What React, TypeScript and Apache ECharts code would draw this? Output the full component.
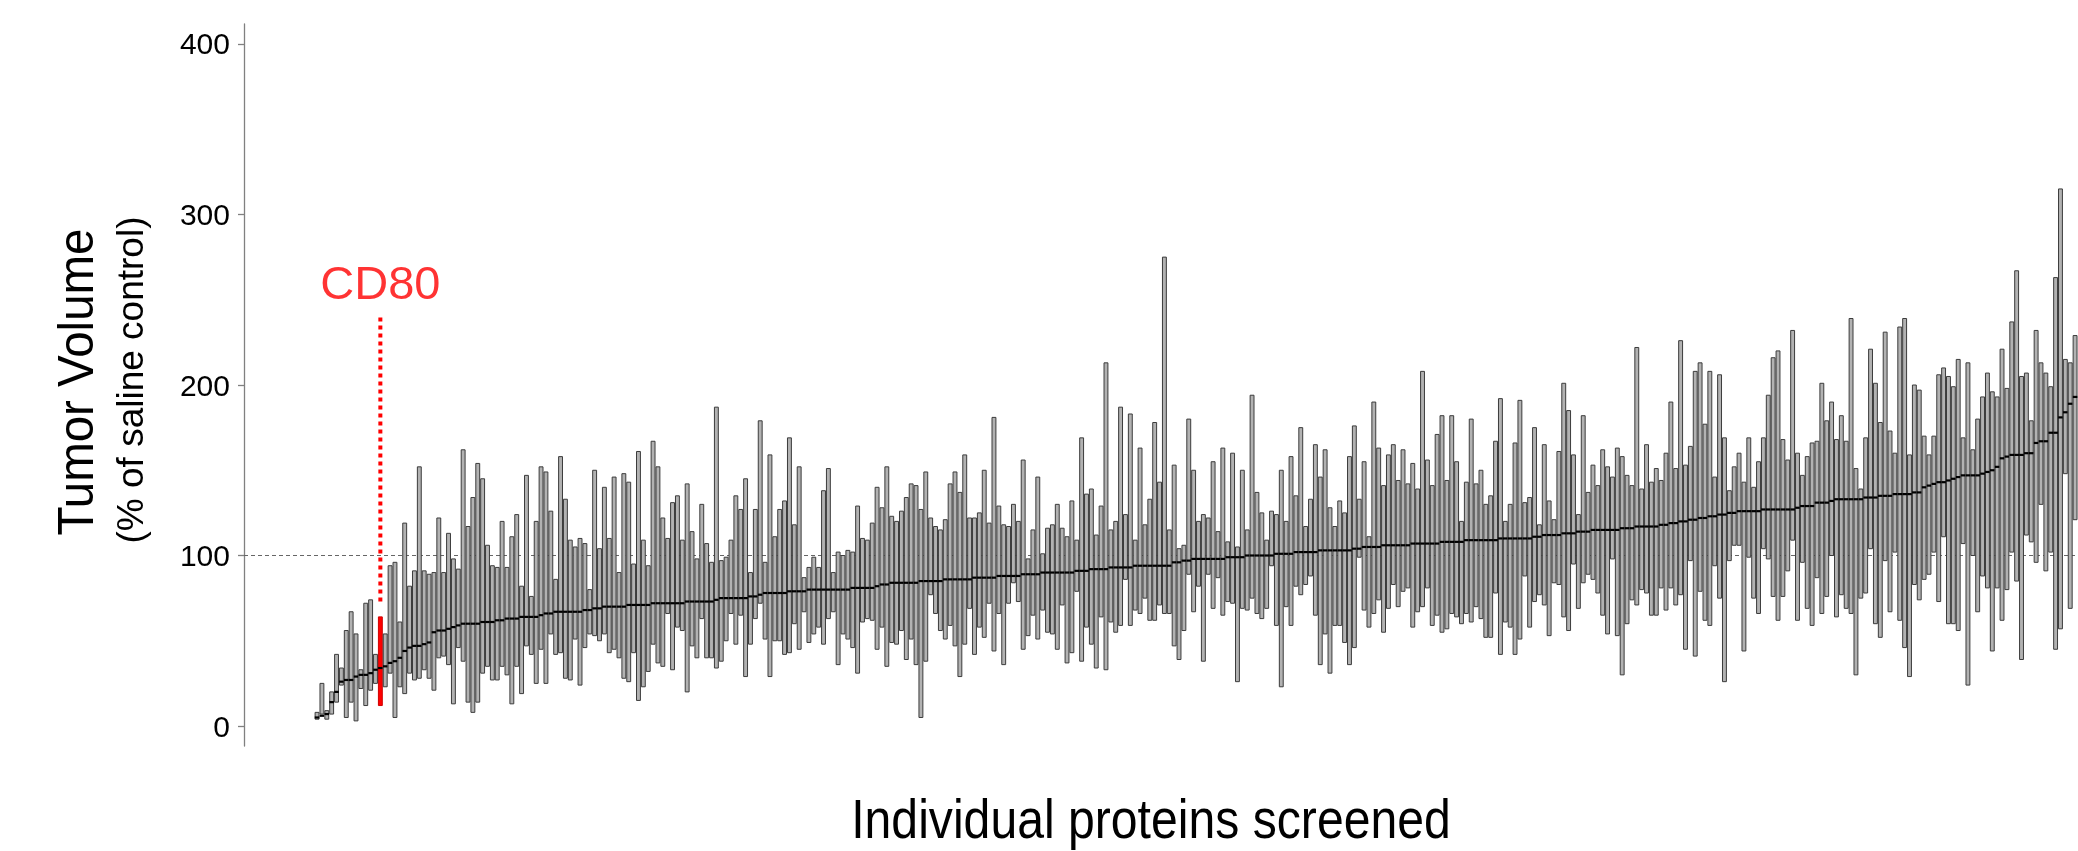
import React, { useEffect, useRef } from 'react';
import * as echarts from 'echarts';

// Per-protein tumour volume range (min / max) and median, sorted by median
const lows = [
  4, 7, 4, 7, 14, 24, 5, 14, 3, 22,
  12, 21, 25, 12, 23, 31, 5, 23, 19, 31,
  27, 28, 33, 28, 21, 40, 41, 36, 13, 46,
  38, 14, 8, 14, 31, 35, 27, 27, 35, 30,
  13, 35, 19, 47, 42, 25, 45, 25, 54, 42,
  43, 28, 27, 51, 24, 46, 54, 53, 50, 54,
  43, 45, 40, 28, 26, 43, 15, 23, 32, 48,
  37, 35, 66, 33, 58, 56, 20, 47, 40, 63,
  40, 40, 34, 38, 50, 66, 48, 65, 29, 48,
  63, 72, 51, 29, 50, 50, 42, 43, 60, 45,
  67, 49, 54, 58, 48, 63, 67, 36, 54, 51,
  46, 31, 61, 63, 62, 45, 58, 35, 49, 48,
  56, 39, 51, 36, 5, 38, 77, 66, 56, 51,
  59, 47, 29, 48, 69, 42, 58, 52, 72, 44,
  66, 36, 72, 84, 73, 45, 53, 65, 51, 68,
  55, 54, 45, 71, 37, 43, 79, 38, 58, 48,
  34, 64, 33, 61, 55, 59, 86, 59, 68, 66,
  75, 62, 62, 71, 66, 66, 47, 39, 56, 89,
  67, 82, 38, 89, 69, 87, 65, 73, 72, 26,
  69, 68, 75, 66, 63, 69, 94, 59, 23, 70,
  59, 82, 77, 83, 88, 65, 36, 54, 31, 59,
  59, 49, 36, 46, 99, 68, 58, 66, 74, 55,
  69, 83, 70, 79, 81, 58, 67, 70, 81, 59,
  65, 55, 57, 66, 64, 60, 66, 61, 70, 63,
  52, 52, 78, 42, 61, 58, 42, 51, 88, 58,
  73, 77, 71, 53, 84, 83, 64, 56, 95, 69,
  84, 89, 86, 78, 65, 54, 98, 53, 30, 60,
  74, 71, 80, 78, 65, 65, 81, 68, 81, 71,
  77, 45, 97, 41, 79, 62, 59, 94, 75, 26,
  97, 106, 106, 44, 99, 75, 66, 104, 98, 76,
  62, 76, 91, 109, 62, 96, 69, 59, 87, 66,
  76, 100, 64, 77, 69, 66, 30, 75, 78, 104,
  60, 52, 97, 67, 102, 62, 46, 29, 83, 74,
  86, 89, 102, 73, 111, 60, 60, 56, 107, 24,
  100, 67, 88, 81, 44, 81, 62, 80, 102, 85,
  39, 112, 108, 96, 130, 91, 102, 45, 57, 148,
  69, 121,
];

const highs = [
  8, 25, 9, 20, 42, 34, 56, 67, 54, 33,
  72, 74, 42, 64, 54, 94, 96, 61, 119, 82,
  91, 152, 91, 89, 90, 122, 90, 113, 98, 92,
  162, 117, 134, 154, 145, 106, 94, 93, 120, 93,
  111, 124, 82, 147, 76, 120, 152, 149, 126, 86,
  158, 133, 109, 105, 110, 107, 80, 150, 104, 140,
  110, 146, 90, 148, 143, 95, 161, 109, 94, 167,
  152, 122, 110, 131, 135, 109, 142, 114, 98, 130,
  107, 96, 187, 97, 99, 109, 135, 127, 145, 90,
  127, 179, 96, 159, 111, 127, 132, 169, 118, 152,
  87, 93, 99, 93, 138, 151, 90, 102, 100, 103,
  102, 129, 110, 109, 119, 140, 128, 152, 123, 120,
  126, 134, 142, 141, 127, 149, 122, 117, 115, 121,
  142, 149, 137, 159, 122, 122, 125, 150, 119, 181,
  129, 118, 117, 130, 120, 156, 98, 115, 146, 101,
  116, 118, 130, 116, 111, 132, 109, 169, 136, 139,
  112, 129, 213, 115, 120, 187, 124, 183, 109, 163,
  118, 133, 178, 143, 275, 115, 153, 104, 106, 180,
  150, 120, 124, 122, 155, 114, 163, 108, 160, 105,
  150, 115, 194, 137, 125, 109, 126, 124, 150, 120,
  158, 135, 175, 117, 133, 165, 146, 162, 128, 117,
  132, 125, 158, 176, 133, 155, 111, 190, 163, 141,
  159, 165, 144, 162, 142, 154, 139, 208, 156, 141,
  171, 182, 144, 182, 155, 120, 143, 180, 142, 150,
  130, 135, 167, 192, 120, 130, 166, 191, 131, 134,
  175, 118, 165, 132, 121, 161, 201, 185, 159, 124,
  182, 137, 153, 141, 162, 152, 146, 163, 158, 147,
  141, 222, 139, 165, 143, 151, 144, 160, 190, 151,
  226, 153, 164, 208, 213, 177, 208, 146, 206, 169,
  138, 152, 160, 143, 169, 140, 155, 169, 194, 216,
  220, 168, 156, 232, 160, 147, 158, 166, 167, 201,
  179, 190, 168, 182, 167, 239, 151, 139, 169, 221,
  201, 178, 231, 173, 160, 234, 239, 159, 200, 197,
  170, 159, 170, 206, 210, 205, 199, 215, 169, 213,
  162, 180, 193, 207, 196, 193, 221, 198, 237, 267,
  205, 207, 179, 232, 213, 207, 199, 263, 315, 215,
  213, 229,
];

const medians = [
  5, 6, 7, 14, 20, 26, 27, 27, 29, 30,
  30, 31, 33, 34, 35, 37, 38, 40, 44, 46,
  47, 47, 48, 49, 55, 56, 56, 57, 58, 59,
  60, 60, 60, 60, 61, 61, 61, 62, 62, 63,
  63, 63, 64, 64, 64, 64, 65, 66, 66, 67,
  67, 67, 67, 67, 67, 68, 68, 69, 69, 70,
  70, 70, 70, 70, 71, 71, 71, 71, 71, 72,
  72, 72, 72, 72, 72, 72, 73, 73, 73, 73,
  73, 73, 74, 75, 75, 75, 75, 75, 75, 76,
  76, 77, 78, 78, 78, 78, 78, 79, 79, 79,
  79, 80, 80, 80, 80, 80, 80, 80, 80, 80,
  81, 81, 81, 81, 81, 82, 83, 83, 84, 84,
  84, 84, 84, 84, 85, 85, 85, 85, 85, 86,
  86, 86, 86, 86, 86, 87, 87, 87, 87, 87,
  88, 88, 88, 88, 88, 89, 89, 89, 89, 90,
  90, 90, 90, 90, 90, 90, 91, 91, 91, 92,
  92, 92, 92, 93, 93, 93, 93, 93, 94, 94,
  94, 94, 94, 94, 94, 94, 96, 96, 97, 97,
  98, 98, 98, 98, 98, 98, 98, 99, 99, 99,
  99, 100, 100, 100, 100, 100, 100, 101, 101, 101,
  101, 102, 102, 102, 102, 102, 103, 103, 103, 103,
  103, 103, 103, 104, 104, 105, 105, 105, 105, 106,
  106, 106, 106, 106, 106, 107, 107, 107, 107, 107,
  107, 108, 108, 108, 108, 108, 109, 109, 109, 109,
  109, 109, 109, 110, 110, 110, 110, 110, 110, 110,
  111, 111, 112, 112, 112, 112, 113, 113, 113, 114,
  114, 114, 115, 115, 115, 115, 115, 115, 116, 116,
  116, 117, 117, 117, 117, 117, 118, 118, 119, 119,
  120, 120, 121, 121, 122, 122, 123, 123, 124, 124,
  125, 125, 126, 126, 126, 126, 126, 127, 127, 127,
  127, 127, 127, 127, 128, 129, 129, 129, 131, 131,
  131, 132, 133, 133, 133, 133, 133, 133, 134, 134,
  134, 135, 135, 135, 136, 136, 136, 136, 137, 137,
  140, 141, 142, 143, 143, 144, 145, 146, 147, 147,
  147, 147, 148, 149, 150, 152, 157, 158, 159, 159,
  159, 160, 160, 166, 167, 167, 172, 172, 181, 184,
  189, 193,
];

const yTicks = [0, 100, 200, 300, 400];
const highlightIndex = 13;
const highlightLabel = 'CD80';
const highlightMarker = [73, 240];
const highlightLabelValue = 260;
const referenceValue = 100;
const yTitle = 'Tumor Volume';
const ySubtitle = '(% of saline control)';
const xTitle = 'Individual proteins screened';

export default function App() {
  const ref = useRef<HTMLDivElement>(null);

  useEffect(() => {
    if (!ref.current) return;
    const chart = echarts.init(ref.current, null, { renderer: 'svg' });
    const n = lows.length;
    const data = lows.map((lo, i) => [i, lo, highs[i], medians[i]]);
    const xMin = -15;
    const xMax = n - 0.4;
    const font = '"Liberation Sans", Arial, sans-serif';

    chart.setOption({
      animation: false,
      grid: { left: 244, right: 0, top: 24, bottom: 105, containLabel: false },
      xAxis: { type: 'value', min: xMin, max: xMax, show: false },
      yAxis: {
        type: 'value',
        min: -11.73,
        max: 411.73,
        splitLine: { show: false },
        axisLine: { show: true, onZero: false, lineStyle: { color: '#808080', width: 1.3 } },
        axisTick: { show: true, length: 6, customValues: yTicks, lineStyle: { color: '#808080', width: 1.3 } },
        axisLabel: { customValues: yTicks, fontSize: 30, color: '#000', fontFamily: font, margin: 14 },
      },
      series: [
        {
          type: 'line',
          data: [[xMin, referenceValue], [xMax, referenceValue]],
          symbol: 'none',
          silent: true,
          z: 1,
          lineStyle: { color: '#666', width: 1, type: [4, 3] },
        },
        {
          type: 'custom',
          data,
          encode: { x: 0, y: [1, 2, 3] },
          z: 2,
          renderItem: (params: any, api: any) => {
            const i = api.value(0);
            const lo = api.value(1);
            const hi = api.value(2);
            const med = api.value(3);
            const step = api.size([1, 0])[0];
            const w = step * 0.8;
            const pTop = api.coord([i, hi]);
            const pBot = api.coord([i, lo]);
            const pMed = api.coord([i, med]);
            const isHi = i === highlightIndex;
            return {
              type: 'group',
              children: [
                {
                  type: 'rect',
                  shape: { x: pTop[0] - w / 2, y: pTop[1], width: w, height: pBot[1] - pTop[1] },
                  style: { fill: isHi ? '#ff0000' : '#b2b2b2', stroke: isHi ? '#d00000' : '#3c3c3c', lineWidth: 1 },
                },
                {
                  type: 'line',
                  shape: { x1: pMed[0] - step * 0.47, y1: pMed[1], x2: pMed[0] + step * 0.47, y2: pMed[1] },
                  style: { stroke: '#000', lineWidth: 2.2 },
                },
              ],
            };
          },
        },
        {
          type: 'line',
          data: [[highlightIndex, highlightMarker[0]], [highlightIndex, highlightMarker[1]]],
          symbol: 'none',
          silent: true,
          z: 3,
          lineStyle: { color: '#ff0000', width: 4, type: [4, 4] },
        },
        {
          type: 'scatter',
          data: [[highlightIndex, highlightLabelValue]],
          symbolSize: 1,
          itemStyle: { color: 'rgba(0,0,0,0)' },
          silent: true,
          z: 4,
          label: {
            show: true,
            position: 'inside',
            formatter: highlightLabel,
            color: '#ff0000',
            fontSize: 47,
            fontFamily: font,
          },
        },
      ],
      graphic: [
        {
          type: 'text',
          x: 76,
          y: 382,
          rotation: Math.PI / 2,
          scaleX: 0.95,
          style: {
            text: yTitle,
            font: `50px ${font}`,
            fill: '#000',
            align: 'center',
            verticalAlign: 'middle',
            textAlign: 'center',
            textVerticalAlign: 'middle',
          },
        },
        {
          type: 'text',
          x: 130,
          y: 380,
          rotation: Math.PI / 2,
          style: {
            text: ySubtitle,
            font: `37px ${font}`,
            fill: '#000',
            align: 'center',
            verticalAlign: 'middle',
            textAlign: 'center',
            textVerticalAlign: 'middle',
          },
        },
        {
          type: 'text',
          x: 1151,
          y: 819,
          scaleX: 0.86,
          style: {
            text: xTitle,
            font: `56px ${font}`,
            fill: '#000',
            align: 'center',
            verticalAlign: 'middle',
            textAlign: 'center',
            textVerticalAlign: 'middle',
          },
        },
      ],
    });

    return () => chart.dispose();
  }, []);

  return <div ref={ref} style={{ position: 'fixed', left: 0, top: 0, width: 2078, height: 851 }} />;
}
